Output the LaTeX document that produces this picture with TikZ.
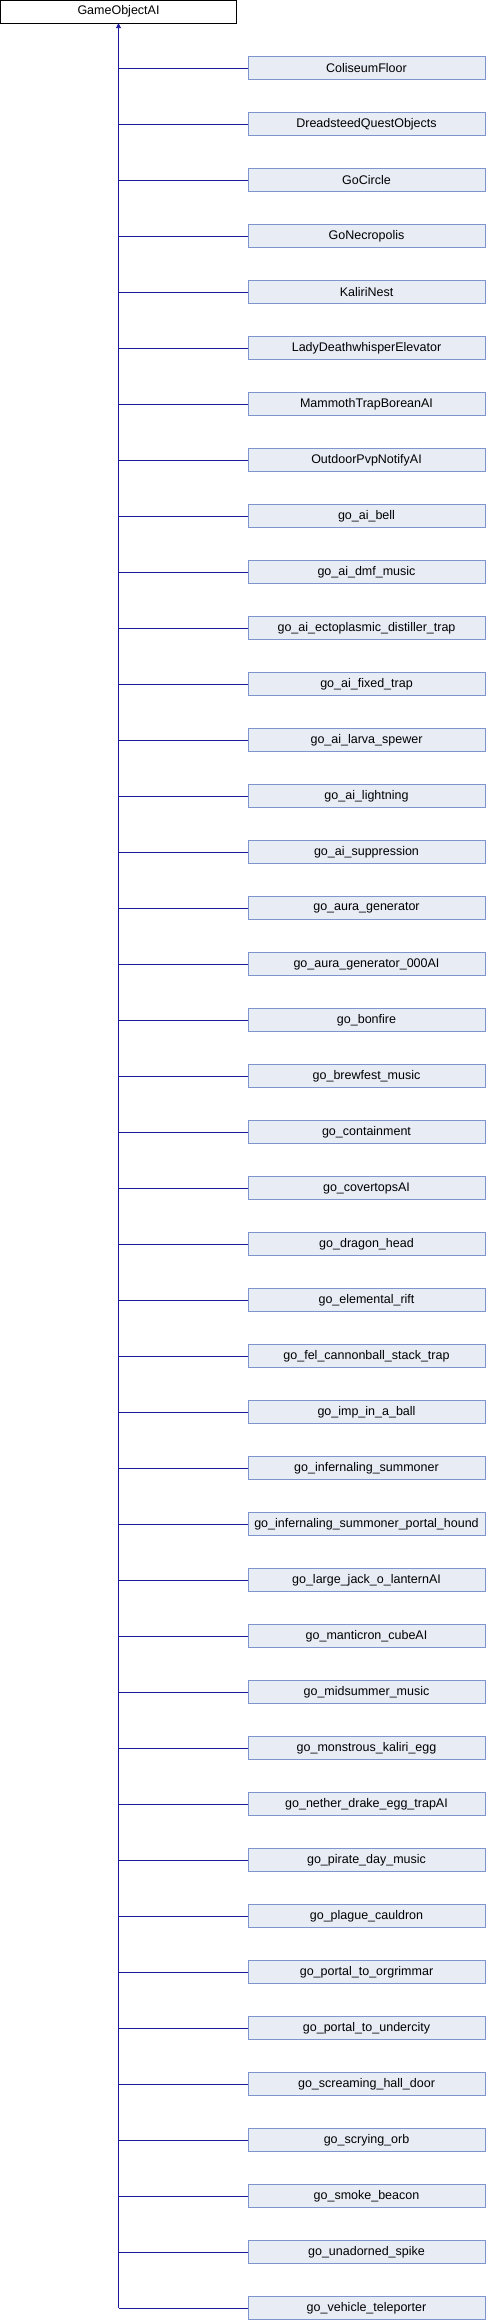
\documentclass[tikz,border=0pt]{standalone}
\usepackage{fontspec}
\setmainfont{Liberation Sans}
\usepackage{xcolor}
\usetikzlibrary{arrows.meta,positioning}
\definecolor{edgeblue}{HTML}{1A1A9A}
\definecolor{boxborder}{HTML}{7D95CC}
\definecolor{boxfill}{HTML}{E8ECF5}

\begin{document}
\begin{tikzpicture}[x=1pt, y=-1pt, >={Triangle[width=5pt,length=5pt]},
    baseclass/.style={draw=black, fill=white, minimum width=236pt, minimum height=23pt, inner sep=0pt, font=\fontsize{12.5}{14}\selectfont},
    subclass/.style={draw=boxborder, fill=boxfill, minimum width=237pt, minimum height=23pt, inner sep=0pt, font=\fontsize{12.5}{14}\selectfont},
    inherit/.style={edgeblue, line width=0.9pt}]
    \useasboundingbox (0,0) rectangle (486,2320);
    \node[baseclass] (base) at (118.5,11.5) {GameObjectAI};
    % derived classes, one row every 56px
    \foreach \cls [count=\i] in {ColiseumFloor, DreadsteedQuestObjects, GoCircle, GoNecropolis, KaliriNest,
        LadyDeathwhisperElevator, MammothTrapBoreanAI, OutdoorPvpNotifyAI, go\_ai\_bell, go\_ai\_dmf\_music,
        go\_ai\_ectoplasmic\_distiller\_trap, go\_ai\_fixed\_trap, go\_ai\_larva\_spewer, go\_ai\_lightning,
        go\_ai\_suppression, go\_aura\_generator, go\_aura\_generator\_000AI, go\_bonfire, go\_brewfest\_music,
        go\_containment, go\_covertopsAI, go\_dragon\_head, go\_elemental\_rift, go\_fel\_cannonball\_stack\_trap,
        go\_imp\_in\_a\_ball, go\_infernaling\_summoner, go\_infernaling\_summoner\_portal\_hound,
        go\_large\_jack\_o\_lanternAI, go\_manticron\_cubeAI, go\_midsummer\_music, go\_monstrous\_kaliri\_egg,
        go\_nether\_drake\_egg\_trapAI, go\_pirate\_day\_music, go\_plague\_cauldron, go\_portal\_to\_orgrimmar,
        go\_portal\_to\_undercity, go\_screaming\_hall\_door, go\_scrying\_orb, go\_smoke\_beacon,
        go\_unadorned\_spike, go\_vehicle\_teleporter}
    {
        \node[subclass] (child\i) at (366.5,{68+56*(\i-1)}) {\cls};
        \draw[inherit] (child\i.west) -- (child\i.west -| base.south);
    }
    \draw[inherit, ->] (base.south |- child41.west) -- (base.south);
\end{tikzpicture}
\end{document}
